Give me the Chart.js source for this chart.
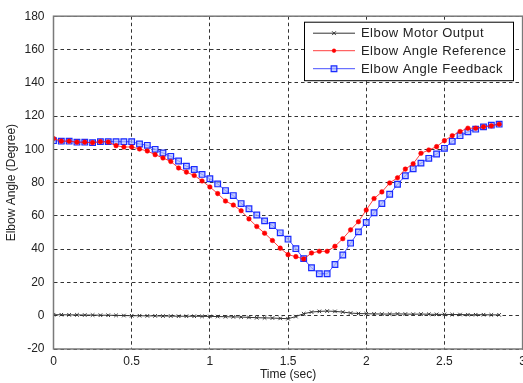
<!DOCTYPE html>
<html>
<head>
<meta charset="utf-8">
<script src="https://cdn.jsdelivr.net/npm/chart.js@4/dist/chart.umd.min.js"></script>
<style>
  html, body { margin: 0; padding: 0; background: #ffffff; overflow: hidden; }
  #wrap { position: absolute; left: 0; top: 0; width: 560px; height: 383px; }
</style>
</head>
<body>
<div id="wrap"><canvas id="c"></canvas></div>
<script>
// ---- data ----
const TIME = [0,0.05,0.1,0.15,0.2,0.25,0.3,0.35,0.4,0.45,
              0.5,0.55,0.6,0.65,0.7,0.75,0.8,0.85,0.9,0.95,
              1.0,1.05,1.1,1.15,1.2,1.25,1.3,1.35,1.4,1.45,
              1.5,1.55,1.6,1.65,1.7,1.75,1.8,1.85,1.9,1.95,
              2.0,2.05,2.1,2.15,2.2,2.25,2.3,2.35,2.4,2.45,
              2.5,2.55,2.6,2.65,2.7,2.75,2.8,2.85];

const MOTOR_OUTPUT = [0.6,0.6,0.5,0.5,0.4,0.4,0.3,0.3,0.2,0.1,
                      0.0,0.0,-0.1,-0.1,-0.2,-0.2,-0.3,-0.3,-0.3,-0.4,
                      -0.4,-0.5,-0.6,-0.7,-0.8,-1.0,-1.2,-1.3,-1.4,-1.6,
                      -1.8,-0.5,1.2,2.2,2.6,2.8,2.6,2.2,1.6,1.3,
                      1.2,1.1,1.0,1.0,1.1,1.0,0.9,1.0,0.9,0.8,
                      0.8,0.7,0.7,0.6,0.6,0.6,0.5,0.5];

const ANGLE_REFERENCE = [106.5,104.9,104.9,104.3,104.3,104.0,104.6,104.4,102.2,101.4,
                         101.4,100.2,99.0,96.8,94.8,92.7,88.8,86.3,84.3,81.0,
                         77.4,73.4,68.9,66.5,63.1,58.2,53.6,49.6,45.2,40.6,
                         36.7,35.5,34.1,37.7,38.7,38.7,41.7,46.3,51.6,56.5,
                         63.5,70.4,74.4,79.8,82.9,88.1,91.3,97.6,99.6,101.6,
                         105.2,108.2,110.7,112.7,112.7,113.5,114.1,115.1];

const ANGLE_FEEDBACK = [105.2,104.9,104.9,104.3,104.3,104.0,104.6,104.6,104.6,104.6,
                        104.6,103.2,102.4,100.0,97.8,95.8,93.0,89.9,87.9,84.9,
                        82.3,79.2,75.2,72.2,67.4,64.3,60.5,57.0,54.2,49.8,
                        46.0,40.3,34.3,28.8,25.2,25.2,30.8,36.5,43.6,50.4,
                        56.0,61.9,67.4,73.0,79.0,84.1,88.3,91.7,94.6,97.2,
                        100.6,104.8,108.2,110.5,112.1,113.5,114.5,115.1];

const SERIES_LABELS = ['Elbow Motor Output', 'Elbow Angle Reference', 'Elbow Angle Feedback'];
const X_TICKS = [0, 0.5, 1, 1.5, 2, 2.5, 3];
const Y_TICKS = [-20, 0, 20, 40, 60, 80, 100, 120, 140, 160, 180];

const pts = (arr) => TIME.map((t, i) => ({ x: t, y: arr[i] }));

const FONT = "'Liberation Sans', Arial, sans-serif";

// frame around plot (MATLAB box)
const framePlugin = {
  id: 'frame',
  afterDatasetsDraw(chart) {
    const { ctx, chartArea: a } = chart;
    ctx.save();
    ctx.strokeStyle = '#7a7a7a';
    ctx.lineWidth = 1.5;
    ctx.strokeRect(a.left, a.top, a.right - a.left, a.bottom - a.top);
    ctx.restore();
  }
};

// legend box inside the plot, top right
const legendPlugin = {
  id: 'boxLegend',
  afterDraw(chart) {
    const { ctx, chartArea: a } = chart;
    const bx = a.right - 218.6, by = a.top + 5.5, bw = 209, bh = 58.5;
    ctx.save();
    ctx.fillStyle = '#ffffff';
    ctx.fillRect(bx, by, bw, bh);
    ctx.strokeStyle = '#000000';
    ctx.lineWidth = 1;
    ctx.strokeRect(bx + 0.5, by + 0.5, bw, bh);
    const rows = [by + 11.5, by + 29, by + 47];
    chart.data.datasets.forEach((ds, i) => {
      const y = rows[i];
      const x0 = bx + 9, x1 = bx + 51, xm = (x0 + x1) / 2;
      ctx.strokeStyle = ds.borderColor;
      ctx.lineWidth = ds.borderWidth;
      ctx.beginPath(); ctx.moveTo(x0, y); ctx.lineTo(x1, y); ctx.stroke();
      ctx.fillStyle = ds.pointBackgroundColor;
      ctx.strokeStyle = ds.pointBorderColor;
      ctx.lineWidth = ds.pointBorderWidth;
      ctx.beginPath();
      if (ds.pointStyle === 'circle') { ctx.arc(xm, y, ds.pointRadius * 0.8, 0, Math.PI * 2); ctx.fill(); ctx.stroke(); }
      else if (ds.pointStyle === 'rect') { const s = ds.pointRadius * Math.SQRT1_2; ctx.rect(xm - s, y - s, 2 * s, 2 * s); ctx.fill(); ctx.stroke(); }
      else { const s = ds.pointRadius * 0.75; ctx.moveTo(xm - s, y - s); ctx.lineTo(xm + s, y + s); ctx.moveTo(xm + s, y - s); ctx.lineTo(xm - s, y + s); ctx.stroke(); }
      ctx.fillStyle = '#222222';
      ctx.font = '13px ' + FONT;
      if ('letterSpacing' in ctx) ctx.letterSpacing = '0.45px';
      ctx.textBaseline = 'middle';
      ctx.textAlign = 'left';
      ctx.fillText(ds.label, bx + 57, y + 0.5);
      if ('letterSpacing' in ctx) ctx.letterSpacing = '0px';
    });
    ctx.restore();
  }
};

new Chart(document.getElementById('c'), {
  type: 'line',
  data: {
    datasets: [
      {
        label: SERIES_LABELS[0],
        data: pts(MOTOR_OUTPUT),
        borderColor: '#333333',
        borderWidth: 1,
        pointStyle: 'crossRot',
        pointRadius: 2.5,
        pointBorderColor: '#333333',
        pointBackgroundColor: '#333333',
        pointBorderWidth: 1,
        tension: 0
      },
      {
        label: SERIES_LABELS[1],
        data: pts(ANGLE_REFERENCE),
        borderColor: 'rgba(255,30,30,0.85)',
        borderWidth: 1,
        pointStyle: 'circle',
        pointRadius: 2.3,
        pointBorderColor: '#ff0000',
        pointBackgroundColor: '#ff0000',
        pointBorderWidth: 0.5,
        tension: 0
      },
      {
        label: SERIES_LABELS[2],
        data: pts(ANGLE_FEEDBACK),
        borderColor: 'rgba(40,50,255,0.85)',
        borderWidth: 1,
        pointStyle: 'rect',
        pointRadius: 4,
        pointBorderColor: '#1a2bff',
        pointBackgroundColor: 'rgba(170,182,255,0.7)',
        pointBorderWidth: 1.2,
        tension: 0
      }
    ]
  },
  options: {
    responsive: true,
    maintainAspectRatio: false,
    animation: false,
    layout: { padding: { top: 15, right: 37.4, left: 0, bottom: 0 } },
    plugins: { legend: { display: false }, tooltip: { enabled: false } },
    scales: {
      x: {
        type: 'linear',
        min: 0, max: 3,
        afterBuildTicks: (s) => { s.ticks = X_TICKS.map(v => ({ value: v })); },
        afterFit: (s) => { s.height = 34; },
        ticks: {
          color: '#222222', font: { family: FONT, size: 12 }, padding: 5,
          maxRotation: 0, autoSkip: false,
          callback: (v) => String(v)
        },
        grid: { color: '#333333', lineWidth: 1, drawTicks: false },
        border: { display: false, dash: [3.5, 3] },
        title: { display: true, text: 'Time (sec)', color: '#222222', font: { family: FONT, size: 12 }, padding: { top: 0, bottom: 1 } }
      },
      y: {
        min: -20, max: 180,
        afterBuildTicks: (s) => { s.ticks = Y_TICKS.map(v => ({ value: v })); },
        afterFit: (s) => { s.width = 53.5; },
        ticks: {
          color: '#222222', font: { family: FONT, size: 12 }, padding: 9,
          autoSkip: false,
          callback: (v) => String(v)
        },
        grid: { color: '#333333', lineWidth: 1, drawTicks: false },
        border: { display: false, dash: [3.5, 3] },
        title: { display: true, text: 'Elbow Angle (Degree)', color: '#222222', font: { family: FONT, size: 12 }, padding: { top: 4, bottom: 4 } }
      }
    }
  },
  plugins: [framePlugin, legendPlugin]
});
</script>
</body>
</html>
